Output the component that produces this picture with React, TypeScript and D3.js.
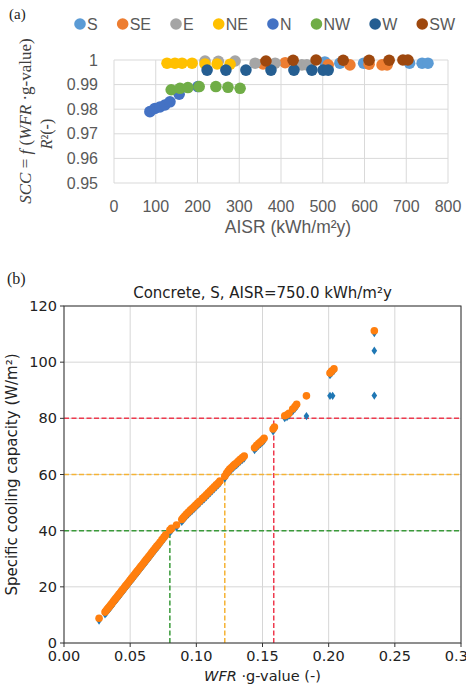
import React from 'react';
import * as d3 from 'd3';

// ---------- Panel (a) data ----------
const directions = ['S', 'SE', 'E', 'NE', 'N', 'NW', 'W', 'SW'];
const dirColors = ['#5B9BD5', '#ED7D31', '#A5A5A5', '#FFC000', '#4472C4', '#70AD47', '#255E91', '#9E480E'];

const aisrS = [505, 541, 598, 655, 708, 738, 752];
const r2S = [0.9992, 0.9987, 0.9987, 0.9987, 0.9987, 0.9987, 0.9987];
const aisrSE = [357, 410, 513, 565, 611, 642, 654];
const r2SE = [0.9984, 0.9989, 0.998, 0.998, 0.9983, 0.998, 0.998];
const aisrE = [218, 250, 290, 338, 386, 450, 462];
const r2E = [0.9996, 0.9995, 0.9996, 0.9987, 0.9987, 0.998, 0.998];
const aisrNE = [127, 146, 163, 187, 218, 247, 278];
const r2NE = [0.9987, 0.9987, 0.9987, 0.9987, 0.9984, 0.9984, 0.9983];
const aisrN = [86, 98, 110, 122, 134, 156, 201];
const r2N = [0.979, 0.9803, 0.9809, 0.9817, 0.983, 0.9861, 0.9892];
const aisrNW = [137, 158, 177, 204, 244, 273, 302];
const r2NW = [0.9879, 0.9885, 0.9888, 0.9892, 0.9892, 0.9889, 0.9885];
const aisrW = [223, 268, 316, 376, 431, 474, 501, 513];
const r2W = [0.9959, 0.9959, 0.9959, 0.9959, 0.9959, 0.9959, 0.9959, 0.9959];
const aisrSW = [364, 429, 484, 549, 611, 659, 692, 704];
const r2SW = [0.9996, 0.9999, 1.0, 0.9999, 0.9999, 0.9999, 1.0, 1.0];

const seriesA = [
  [aisrS, r2S], [aisrSE, r2SE], [aisrE, r2E], [aisrNE, r2NE],
  [aisrN, r2N], [aisrNW, r2NW], [aisrW, r2W], [aisrSW, r2SW],
];

const xTicksA = [0, 100, 200, 300, 400, 500, 600, 700, 800];
const yTicksA = [0.95, 0.96, 0.97, 0.98, 0.99, 1];

// ---------- Panel (b) data ----------
const wfrG = [0.0265, 0.0310, 0.0318, 0.0326, 0.0335, 0.0344, 0.0352, 0.0360, 0.0370, 0.0378,
  0.0388, 0.0397, 0.0405, 0.0415, 0.0424, 0.0433, 0.0442, 0.0452, 0.0461, 0.0470,
  0.0480, 0.0490, 0.0500, 0.0510, 0.0520, 0.0530, 0.0540, 0.0550, 0.0560, 0.0570,
  0.0580, 0.0590, 0.0600, 0.0610, 0.0620, 0.0630, 0.0640, 0.0652, 0.0663, 0.0675,
  0.0688, 0.0700, 0.0712, 0.0725, 0.0740, 0.0755, 0.0768, 0.0800, 0.0812, 0.0850,
  0.0890, 0.0900, 0.0912, 0.0925, 0.0940, 0.0955, 0.0968, 0.0982, 0.0995, 0.1010,
  0.1025, 0.1045, 0.1060, 0.1075, 0.1090, 0.1105, 0.1120, 0.1135, 0.1150, 0.1165,
  0.1178, 0.1215, 0.1228, 0.1240, 0.1252, 0.1265, 0.1278, 0.1290, 0.1305, 0.1318,
  0.1332, 0.1348, 0.1362, 0.1440, 0.1455, 0.1470, 0.1485, 0.1500, 0.1512, 0.1580,
  0.1590, 0.1668, 0.1685, 0.1700, 0.1728, 0.1745, 0.1758, 0.1832, 0.2010, 0.2022,
  0.2040, 0.2345];

const sccFit = [8.8, 11.0, 11.5, 12.0, 12.5, 13.0, 13.5, 14.0, 14.6, 15.1,
  15.7, 16.2, 16.7, 17.3, 17.8, 18.4, 18.9, 19.5, 20.1, 20.6,
  21.2, 21.8, 22.4, 23.0, 23.6, 24.2, 24.8, 25.4, 26.0, 26.6,
  27.2, 27.8, 28.4, 29.0, 29.6, 30.2, 30.8, 31.5, 32.2, 32.9,
  33.7, 34.4, 35.1, 35.9, 36.8, 37.7, 38.5, 40.2, 40.8, 42.0,
  44.0, 44.6, 45.2, 45.9, 46.6, 47.3, 47.9, 48.5, 49.1, 49.8,
  50.5, 51.4, 52.1, 52.8, 53.5, 54.2, 54.9, 55.6, 56.3, 57.0,
  57.7, 59.4, 60.4, 61.2, 61.9, 62.5, 63.1, 63.6, 64.2, 64.8,
  65.4, 66.0, 66.6, 69.5, 70.3, 71.0, 71.6, 72.3, 72.9, 76.2,
  76.9, 80.9, 81.3, 81.8, 83.3, 84.2, 85.0, 88.0, 96.1, 96.8,
  97.6, 111.2];

const sccSim = [8.0, 10.2, 10.7, 11.2, 11.7, 12.2, 12.7, 13.2, 13.8, 14.3,
  14.9, 15.4, 15.9, 16.5, 17.0, 17.6, 18.1, 18.7, 19.3, 19.8,
  20.4, 21.0, 21.6, 22.2, 22.8, 23.4, 24.0, 24.6, 25.2, 25.8,
  26.4, 27.0, 27.6, 28.2, 28.8, 29.4, 30.0, 30.7, 31.4, 32.1,
  32.9, 33.6, 34.3, 35.1, 36.0, 36.9, 37.7, 39.4, 40.0, 41.2,
  43.2, 43.8, 44.4, 45.1, 45.8, 46.5, 47.1, 47.7, 48.3, 49.0,
  49.7, 50.6, 51.3, 52.0, 52.7, 53.4, 54.1, 54.8, 55.5, 56.2,
  56.9, 58.6, 59.6, 60.4, 61.1, 61.7, 62.3, 62.8, 63.4, 64.0,
  64.6, 65.2, 65.8, 68.7, 69.5, 70.2, 70.8, 71.5, 72.1, 75.4,
  76.1, 80.1, 80.5, 81.0, 82.5, 83.4, 84.2, 80.8, 95.4, 96.0,
  96.9, 110.4];

const simExtraX = [0.2010, 0.2030, 0.2345, 0.2345];
const simExtraY = [88.0, 88.0, 104.1, 88.1];

const xTicksB = [0, 0.05, 0.1, 0.15, 0.2, 0.25, 0.3];
const yTicksB = [0, 20, 40, 60, 80, 100, 120];

const thresholdScc = [80, 60, 40];
const thresholdWfr = [0.1585, 0.1215, 0.0800];
const thresholdColors = ['#EE3A4E', '#F5B335', '#3A9A3A'];

const W = 466;
const H = 687;

function measure(text: string, font: string): number {
  const c = document.createElement('canvas');
  const ctx = c.getContext('2d');
  if (!ctx) return text.length * 9;
  ctx.font = font;
  return ctx.measureText(text).width;
}

export default function App() {
  // Panel (a) scales
  const xA = d3.scaleLinear().domain([0, 800]).range([114, 448]);
  const yA = d3.scaleLinear().domain([0.95, 1]).range([183, 60]);
  // Panel (b) scales
  const xB = d3.scaleLinear().domain([0, 0.3]).range([64, 461]);
  const yB = d3.scaleLinear().domain([0, 120]).range([643, 306]);

  const sansA = '"Liberation Sans", Arial, sans-serif';
  const sansB = '"DejaVu Sans", sans-serif';
  const serif = '"Liberation Serif", "Times New Roman", serif';
  const grayA = '#595959';

  // legend layout
  const legFont = `16px ${sansA}`;
  let lx = 80;
  const legendItems = directions.map((d, i) => {
    const item = { d, color: dirColors[i], cx: lx, tx: lx + 7 };
    lx = lx + 7 + measure(d, legFont) + 25;
    return item;
  });

  const diamond = 'M0,-4.2L2.8,0L0,4.2L-2.8,0Z';
  const fmtB = d3.format('.2f');

  return (
    <svg width={W} height={H} style={{ position: 'absolute', left: 0, top: 0, background: '#fff' }}>
      <rect x={0} y={0} width={W} height={H} fill="#fff" />
      {/* ---------- Panel (a) ---------- */}
      <text x={9} y={19} fontFamily={serif} fontSize={15} fill="#222">(a)</text>
      {legendItems.map((it) => (
        <g key={it.d}>
          <circle cx={it.cx} cy={24} r={5.8} fill={it.color} />
          <text x={it.tx} y={30} fontFamily={sansA} fontSize={16} fill={grayA}>{it.d}</text>
        </g>
      ))}
      {xTicksA.map((t) => (
        <line key={'gx' + t} x1={xA(t)} x2={xA(t)} y1={yA(1)} y2={yA(0.95)} stroke="#D9D9D9" strokeWidth={1} />
      ))}
      {yTicksA.map((t) => (
        <line key={'gy' + t} x1={xA(0)} x2={xA(800)} y1={yA(t)} y2={yA(t)} stroke="#D9D9D9" strokeWidth={1} />
      ))}
      {yTicksA.map((t) => (
        <text key={'ty' + t} x={98} y={yA(t)} dy="0.35em" textAnchor="end" fontFamily={sansA} fontSize={16} fill={grayA}>
          {t === 1 ? '1' : d3.format('.2f')(t)}
        </text>
      ))}
      {xTicksA.map((t) => (
        <text key={'tx' + t} x={xA(t)} y={206} dy="0.35em" textAnchor="middle" fontFamily={sansA} fontSize={16} fill={grayA}>
          {t}
        </text>
      ))}
      <text x={288} y={227} dy="0.35em" textAnchor="middle" fontFamily={sansA} fontSize={17.5} fill={grayA}>
        AISR (kWh/m²y)
      </text>
      <text transform={`translate(31,121) rotate(-90)`} textAnchor="middle" fontFamily={serif} fontSize={17} fill="#404040">
        <tspan fontStyle="italic">SCC</tspan>
        <tspan> = </tspan>
        <tspan fontStyle="italic">f</tspan>
        <tspan> (</tspan>
        <tspan fontStyle="italic">WFR</tspan>
        <tspan> ·g-value)</tspan>
      </text>
      <text transform={`translate(52,134) rotate(-90)`} textAnchor="middle" fontFamily={serif} fontSize={16} fill="#404040">
        <tspan fontStyle="italic">R</tspan>
        <tspan>²(-)</tspan>
      </text>
      {seriesA.map(([xs, ys], si) => (
        <g key={'s' + si}>
          {xs.map((v, i) => (
            <circle key={i} cx={xA(v)} cy={yA(ys[i])} r={5.8} fill={dirColors[si]} />
          ))}
        </g>
      ))}

      {/* ---------- Panel (b) ---------- */}
      <text x={7} y={284} fontFamily={serif} fontSize={16} fill="#222">(b)</text>
      <text x={(xB(0) + xB(0.3)) / 2} y={298} textAnchor="middle" fontFamily={sansB} fontSize={15} fill="#222">
        Concrete, S, AISR=750.0 kWh/m²y
      </text>
      {xTicksB.map((t) => (
        <line key={'bgx' + t} x1={xB(t)} x2={xB(t)} y1={yB(0)} y2={yB(120)} stroke="#D6D6D6" strokeWidth={1} />
      ))}
      {yTicksB.map((t) => (
        <line key={'bgy' + t} x1={xB(0)} x2={xB(0.3)} y1={yB(t)} y2={yB(t)} stroke="#D6D6D6" strokeWidth={1} />
      ))}
      {/* threshold dashed lines */}
      {thresholdScc.map((s, i) => (
        <g key={'th' + i}>
          <line x1={xB(0)} x2={xB(0.3)} y1={yB(s)} y2={yB(s)} stroke={thresholdColors[i]} strokeWidth={1.5} strokeDasharray="5,2.5" />
          <line x1={xB(thresholdWfr[i])} x2={xB(thresholdWfr[i])} y1={yB(0)} y2={yB(s)} stroke={thresholdColors[i]} strokeWidth={1.5} strokeDasharray="5,2.5" />
        </g>
      ))}
      {/* simulated (blue) */}
      {wfrG.map((v, i) => (
        <path key={'b' + i} d={diamond} transform={`translate(${xB(v)},${yB(sccSim[i])})`} fill="#1F77B4" />
      ))}
      {simExtraX.map((v, i) => (
        <path key={'be' + i} d={diamond} transform={`translate(${xB(v)},${yB(simExtraY[i])})`} fill="#1F77B4" />
      ))}
      {/* fitted (orange) */}
      {wfrG.map((v, i) => (
        <circle key={'o' + i} cx={xB(v)} cy={yB(sccFit[i])} r={3.8} fill="#FF7F0E" />
      ))}
      {/* spines */}
      <rect x={xB(0)} y={yB(120)} width={xB(0.3) - xB(0)} height={yB(0) - yB(120)} fill="none" stroke="#333" strokeWidth={1} />
      {yTicksB.map((t) => (
        <g key={'bty' + t}>
          <line x1={xB(0) - 4} x2={xB(0)} y1={yB(t)} y2={yB(t)} stroke="#333" />
          <text x={xB(0) - 7} y={yB(t)} dy="0.35em" textAnchor="end" fontFamily={sansB} fontSize={14.5} fill="#222">{t}</text>
        </g>
      ))}
      {xTicksB.map((t) => (
        <g key={'btx' + t}>
          <line x1={xB(t)} x2={xB(t)} y1={yB(0)} y2={yB(0) + 4} stroke="#333" />
          <text x={xB(t)} y={656} dy="0.35em" textAnchor="middle" fontFamily={sansB} fontSize={14.5} fill="#222">{fmtB(t)}</text>
        </g>
      ))}
      <text x={(xB(0) + xB(0.3)) / 2} y={681} textAnchor="middle" fontFamily={sansB} fontSize={14.5} fill="#222">
        <tspan fontStyle="italic">WFR</tspan>
        <tspan> ·g-value (-)</tspan>
      </text>
      <text transform={`translate(17,${(yB(0) + yB(120)) / 2}) rotate(-90)`} textAnchor="middle" fontFamily={sansB} fontSize={15} fill="#222">
        Specific cooling capacity (W/m²)
      </text>
    </svg>
  );
}
